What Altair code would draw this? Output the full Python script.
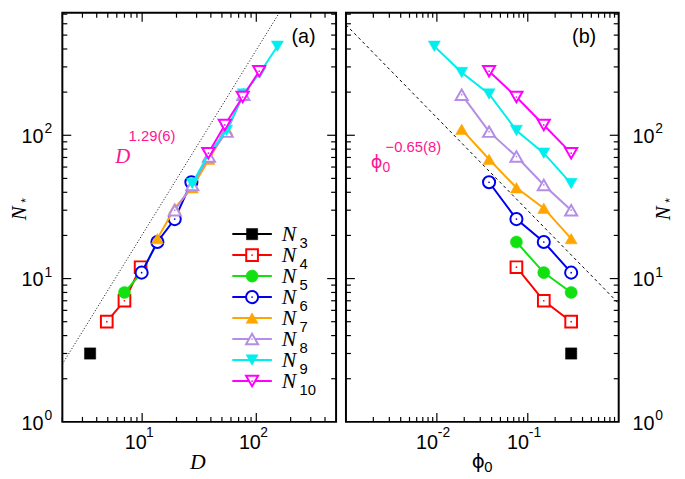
import altair as alt
import pandas as pd

# ---------------- data ----------------
SERIES = ["N3", "N4", "N5", "N6", "N7", "N8", "N9", "N10"]
SUBSCRIPTS = ["3", "4", "5", "6", "7", "8", "9", "10"]
COLORS = ["#000000", "#ff0000", "#11e011", "#0000ee", "#ffa500", "#b38de6", "#00eeee", "#ff00ff"]
SHAPES = ["square", "square", "circle", "circle", "triangle-up", "triangle-up", "triangle-down", "triangle-down"]
FILLED = [True, False, True, False, True, False, True, False]
SIZES = [130, 140, 150, 150, 150, 150, 150, 150]

PHI0 = [
    [0.3],
    [0.3, 0.15, 0.075],
    [0.3, 0.15, 0.075],
    [0.3, 0.15, 0.075, 0.0375],
    [0.3, 0.15, 0.075, 0.0375, 0.01875],
    [0.3, 0.15, 0.075, 0.0375, 0.01875],
    [0.3, 0.15, 0.075, 0.0375, 0.01875, 0.009375],
    [0.3, 0.15, 0.075, 0.0375],
]
D_VALS = [
    [3.5],
    [4.9, 7.0, 9.7],
    [7.0, 9.9, 13.6],
    [9.9, 13.6, 19.3, 27.0],
    [13.6, 19.3, 27.5, 38.5, 55.0],
    [19.3, 27.5, 38.5, 55.0, 77.0],
    [27.5, 38.5, 55.0, 77.0, 108.0, 153.0],
    [38.0, 53.0, 76.0, 106.0],
]
N_STAR = [
    [3],
    [5, 7, 12],
    [8, 11, 18],
    [11, 18, 26, 47],
    [19, 31, 43, 68, 110],
    [30, 45, 71, 106, 192],
    [46, 75, 108, 194, 274, 418],
    [75, 118, 185, 280],
]

# fitted guide lines (end points)
REF_A_D = [2.0, 172.0]
REF_A_N = [2.53, 792.0]
REF_B_PHI = [0.001, 1.0]
REF_B_N = [590.0, 6.7]

# tick values
XA_MAJOR = [10, 100]
XA_MINOR = [2, 3, 4, 5, 6, 7, 8, 9, 20, 30, 40, 50, 60, 70, 80, 90, 200, 300, 400]
XA_LABEL_EXP = ["1", "2"]
XB_MAJOR = [0.01, 0.1]
XB_MINOR = [0.002, 0.003, 0.004, 0.005, 0.006, 0.007, 0.008, 0.009,
            0.02, 0.03, 0.04, 0.05, 0.06, 0.07, 0.08, 0.09,
            0.2, 0.3, 0.4, 0.5, 0.6, 0.7, 0.8, 0.9]
XB_LABEL_EXP = ["-2", "-1"]
Y_MAJOR = [10, 100]
Y_MINOR = [2, 3, 4, 5, 6, 7, 8, 9, 20, 30, 40, 50, 60, 70, 80, 90, 200, 300, 400, 500, 600, 700]
Y_LABEL_VALUES = [1, 10, 100]
Y_LABEL_EXP = ["0", "1", "2"]

PINK = "#ff1493"
SANS = "Liberation Sans"
SERIF = "Liberation Serif"
PHI_FONT = "DejaVu Sans"

H = 414
WA = 277
WB = 276
YSCALE = alt.Scale(type="log", domain=[1, 716], nice=False)
XA = alt.Scale(type="log", domain=[2, 500], nice=False)
XB = alt.Scale(type="log", domain=[0.001, 1], nice=False)
ROW_SCALE = alt.Scale(domain=[0, 7], range=[224, 372.7])


def tick_layers(xvals_major, xvals_minor, xscale, W):
    layers = []
    for vals, ln in ((xvals_major, 9), (xvals_minor, 5)):
        df = pd.DataFrame({"v": vals})
        layers.append(alt.Chart(df).mark_rule(color="black", strokeWidth=1.2).encode(
            x=alt.X("v:Q", scale=xscale, axis=None), y=alt.value(H), y2=alt.value(H - ln)))
        layers.append(alt.Chart(df).mark_rule(color="black", strokeWidth=1.2).encode(
            x=alt.X("v:Q", scale=xscale, axis=None), y=alt.value(0), y2=alt.value(ln)))
    for vals, ln in ((Y_MAJOR, 9), (Y_MINOR, 5)):
        df = pd.DataFrame({"v": vals})
        layers.append(alt.Chart(df).mark_rule(color="black", strokeWidth=1.2).encode(
            y=alt.Y("v:Q", scale=YSCALE, axis=None), x=alt.value(0), x2=alt.value(ln)))
        layers.append(alt.Chart(df).mark_rule(color="black", strokeWidth=1.2).encode(
            y=alt.Y("v:Q", scale=YSCALE, axis=None), x=alt.value(W), x2=alt.value(W - ln)))
    return layers


def series_layers(xlists, xscale):
    layers = []
    for i in range(len(SERIES)):
        df = pd.DataFrame({"x": xlists[i], "n": N_STAR[i]})
        enc = dict(x=alt.X("x:Q", scale=xscale, axis=None),
                   y=alt.Y("n:Q", scale=YSCALE, axis=None))
        base = alt.Chart(df)
        if len(xlists[i]) > 1:
            layers.append(base.mark_line(color=COLORS[i], strokeWidth=2, clip=True).encode(**enc))
        if FILLED[i]:
            layers.append(base.mark_point(shape=SHAPES[i], size=SIZES[i], filled=True,
                                          fill=COLORS[i], stroke=COLORS[i], strokeWidth=0.5,
                                          opacity=1).encode(**enc))
        else:
            layers.append(base.mark_point(shape=SHAPES[i], size=SIZES[i], filled=True,
                                          fill="white", stroke=COLORS[i], strokeWidth=2,
                                          opacity=1).encode(**enc))
            layers.append(base.mark_point(shape="circle", size=3, filled=True,
                                          fill=COLORS[i], opacity=1).encode(**enc))
    return layers


def xlabel_layers(vals, exps, xscale, base_dx, sup_dx):
    df = pd.DataFrame({"v": vals, "e": exps})
    return [
        alt.Chart(df).mark_text(font=SANS, fontSize=20, align="center", baseline="middle",
                                dx=base_dx).encode(
            x=alt.X("v:Q", scale=xscale, axis=None), y=alt.value(H + 21), text=alt.value("10")),
        alt.Chart(df).mark_text(font=SANS, fontSize=14, align="left", baseline="middle",
                                dx=sup_dx).encode(
            x=alt.X("v:Q", scale=xscale, axis=None), y=alt.value(H + 11), text="e:N"),
    ]


def ylabel_layers(side, W):
    df = pd.DataFrame({"v": Y_LABEL_VALUES, "e": Y_LABEL_EXP})
    if side == "left":
        bx, ba, sx = -19, "right", -18
    else:
        bx, ba, sx = W + 14, "left", W + 37
    return [
        alt.Chart(df).mark_text(font=SANS, fontSize=20, align=ba, baseline="middle", dy=2).encode(
            y=alt.Y("v:Q", scale=YSCALE, axis=None), x=alt.value(bx), text=alt.value("10")),
        alt.Chart(df).mark_text(font=SANS, fontSize=14, align="left", baseline="middle", dy=-6).encode(
            y=alt.Y("v:Q", scale=YSCALE, axis=None), x=alt.value(sx), text="e:N"),
    ]


def nstar_title(x):
    one = pd.DataFrame({"k": [0]})
    return [
        alt.Chart(one).mark_text(font=SERIF, fontStyle="italic", fontSize=21, angle=270,
                                 align="center", baseline="middle").encode(
            x=alt.value(x), y=alt.value(203), text=alt.value("N")),
        alt.Chart(one).mark_text(font=SANS, fontSize=12, angle=270,
                                 align="center", baseline="middle").encode(
            x=alt.value(x + 6), y=alt.value(190), text=alt.value("*")),
    ]


def text1(x, y, s, **kw):
    one = pd.DataFrame({"k": [0]})
    return alt.Chart(one).mark_text(baseline="middle", **kw).encode(
        x=alt.value(x), y=alt.value(y), text=alt.value(s))


def legend_layers():
    layers = []
    for i in range(len(SERIES)):
        df = pd.DataFrame({"row": [i]})
        yenc = alt.Y("row:Q", scale=ROW_SCALE, axis=None)
        layers.append(alt.Chart(df).mark_rule(color=COLORS[i], strokeWidth=2).encode(
            y=yenc, x=alt.value(172), x2=alt.value(212)))
        if FILLED[i]:
            layers.append(alt.Chart(df).mark_point(shape=SHAPES[i], size=SIZES[i], filled=True,
                                                   fill=COLORS[i], stroke=COLORS[i], strokeWidth=0.5,
                                                   opacity=1).encode(y=yenc, x=alt.value(192)))
        else:
            layers.append(alt.Chart(df).mark_point(shape=SHAPES[i], size=SIZES[i], filled=True,
                                                   fill="white", stroke=COLORS[i], strokeWidth=2,
                                                   opacity=1).encode(y=yenc, x=alt.value(192)))
            layers.append(alt.Chart(df).mark_point(shape="circle", size=3, filled=True,
                                                   fill=COLORS[i], opacity=1).encode(y=yenc, x=alt.value(192)))
    lab = pd.DataFrame({"row": list(range(len(SERIES))), "sub": SUBSCRIPTS})
    yenc = alt.Y("row:Q", scale=ROW_SCALE, axis=None)
    layers.append(alt.Chart(lab).mark_text(font=SERIF, fontStyle="italic", fontSize=22,
                                           align="left", baseline="middle", dy=0).encode(
        y=yenc, x=alt.value(222), text=alt.value("N")))
    layers.append(alt.Chart(lab).mark_text(font=SANS, fontSize=15, align="left",
                                           baseline="middle", dy=9).encode(
        y=yenc, x=alt.value(240), text="sub:N"))
    return layers


# ---------------- panel (a) ----------------
refa = pd.DataFrame({"x": REF_A_D, "n": REF_A_N})
layers_a = [
    alt.Chart(refa).mark_line(color="black", strokeWidth=1, strokeDash=[1, 2], clip=True).encode(
        x=alt.X("x:Q", scale=XA, axis=None), y=alt.Y("n:Q", scale=YSCALE, axis=None)),
]
layers_a += series_layers(D_VALS, XA)
layers_a += tick_layers(XA_MAJOR, XA_MINOR, XA, WA)
layers_a += xlabel_layers(XA_MAJOR, XA_LABEL_EXP, XA, -6.5, 4)
layers_a += ylabel_layers("left", WA)
layers_a += nstar_title(-43)
layers_a += legend_layers()
layers_a += [
    text1(137, H + 41, "D", font=SERIF, fontStyle="italic", fontSize=22, align="center"),
    text1(244, 25, "(a)", font=SANS, fontSize=20, align="center"),
    text1(61, 146, "D", font=SERIF, fontStyle="italic", fontSize=21, align="center", color=PINK),
    text1(67, 125, "1.29(6)", font=SANS, fontSize=15, align="left", color=PINK),
]
panel_a = alt.layer(*layers_a).resolve_scale(y="independent").properties(width=WA, height=H)

# ---------------- panel (b) ----------------
refb = pd.DataFrame({"x": REF_B_PHI, "n": REF_B_N})
layers_b = [
    alt.Chart(refb).mark_line(color="black", strokeWidth=1, strokeDash=[3, 3], clip=True).encode(
        x=alt.X("x:Q", scale=XB, axis=None), y=alt.Y("n:Q", scale=YSCALE, axis=None)),
]
layers_b += series_layers(PHI0, XB)
layers_b += tick_layers(XB_MAJOR, XB_MINOR, XB, WB)
layers_b += xlabel_layers(XB_MAJOR, XB_LABEL_EXP, XB, -10, 1)
layers_b += ylabel_layers("right", WB)
layers_b += nstar_title(322)
layers_b += [
    text1(134, H + 41, "ϕ", font=PHI_FONT, fontSize=20, align="center"),
    text1(140, H + 46, "0", font=SANS, fontSize=15, align="left"),
    text1(241, 25, "(b)", font=SANS, fontSize=20, align="center"),
    text1(31, 152, "ϕ", font=PHI_FONT, fontSize=18, align="center", color=PINK),
    text1(37, 157, "0", font=SANS, fontSize=14, align="left", color=PINK),
    text1(40, 136, "−0.65(8)", font=SANS, fontSize=15, align="left", color=PINK),
]
panel_b = alt.layer(*layers_b).resolve_scale(y="independent").properties(width=WB, height=H)

chart = alt.hconcat(
    panel_a, panel_b, spacing=6, padding=0,
).configure_view(stroke="black", strokeWidth=2)

chart.save("out.html", embed_options={"renderer": "svg", "actions": False})
